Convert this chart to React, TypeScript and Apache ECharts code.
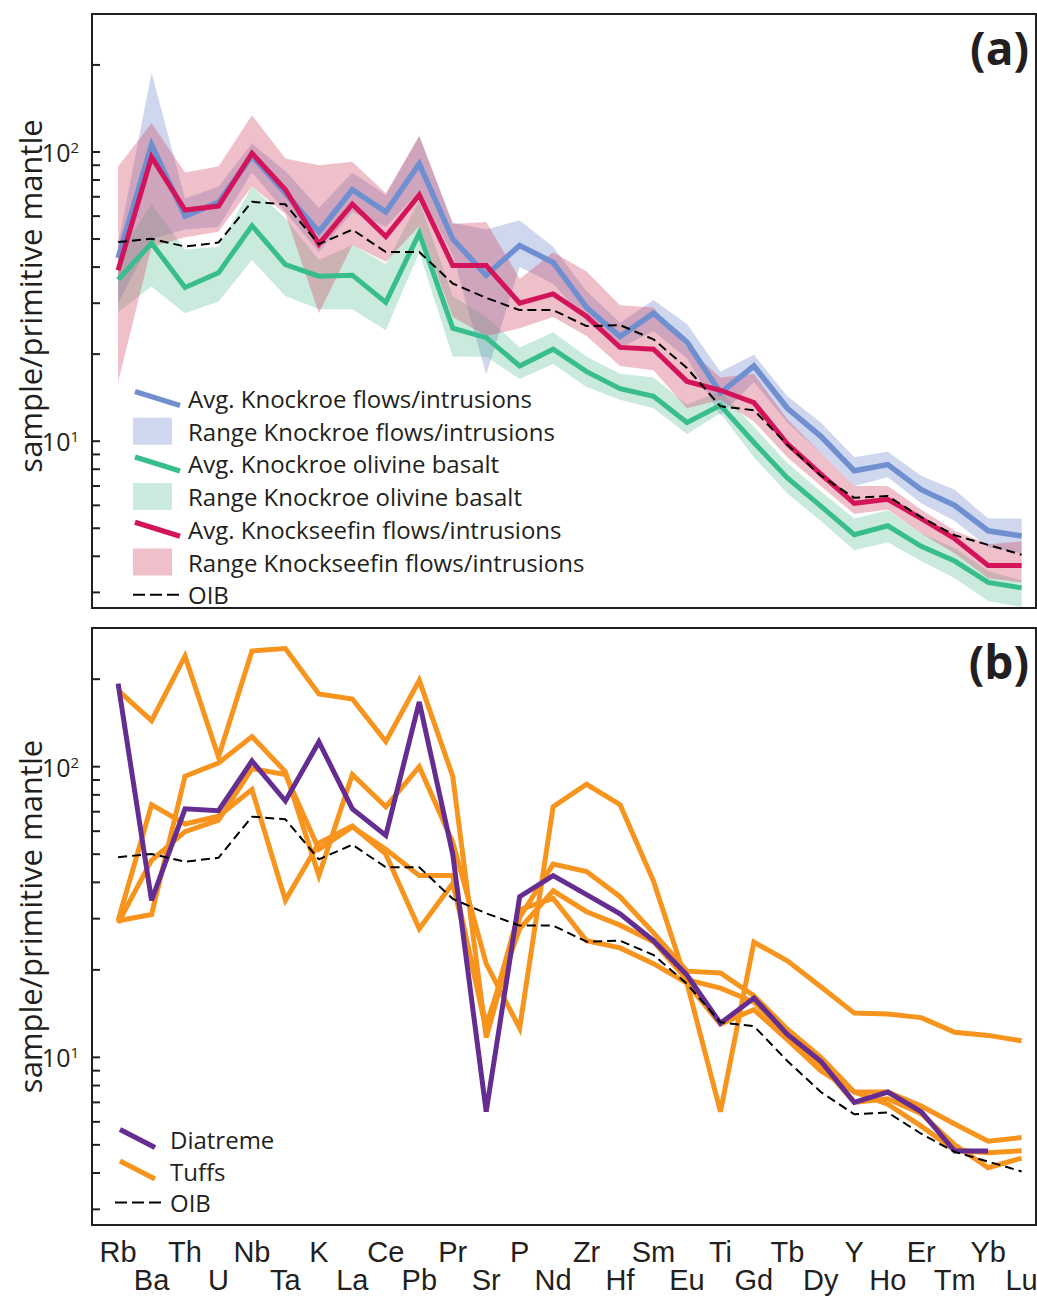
import React, { useEffect, useRef } from 'react';
import * as echarts from 'echarts';

// ---------- data ----------
const ELEMENTS = ['Rb','Ba','Th','U','Nb','Ta','K','La','Ce','Pb','Pr','Sr','P','Nd','Zr','Hf','Sm','Eu','Ti','Gd','Tb','Dy','Y','Ho','Er','Tm','Yb','Lu'];

const OIB = [48.8, 50.1, 47.1, 48.6, 67.3, 65.9, 48.0, 53.9, 45.1, 45.1, 35.1, 31.3, 28.4, 28.4, 25.0, 25.2, 22.5, 17.9, 13.2, 12.8, 9.72, 7.6, 6.37, 6.46, 5.46, 4.73, 4.38, 4.05];

const KNOCKROE_AVG = [43, 106, 60, 67, 97, 72, 53, 74, 62, 91, 50, 37.5, 47.5, 41.5, 29, 23, 27.7, 22, 14.7, 18.2, 13, 10.4, 7.9, 8.3, 6.8, 6.0, 4.9, 4.7];
const KNOCKROE_MAX = [48, 188, 69, 76, 107, 86, 64, 85, 71, 113, 57, 54, 58, 47, 33, 25.7, 30.8, 25.4, 17.4, 19.9, 14.3, 11.6, 8.8, 9.2, 7.6, 6.8, 5.4, 5.4];
const KNOCKROE_MIN = [30, 50, 54, 55, 85, 62, 45, 62, 55, 73, 44, 17, 40, 35, 26, 21, 24, 19.3, 12.3, 16, 11.6, 9.1, 7.0, 7.5, 6.1, 5.3, 4.3, 4.1];

const OLIVINE_AVG = [36.2, 48.4, 34, 38.2, 55.6, 40.8, 37.2, 37.5, 30.2, 52.4, 24.6, 22.8, 18.2, 20.8, 17.4, 15.2, 14.3, 11.6, 13.3, 9.9, 7.46, 5.96, 4.75, 5.1, 4.33, 3.85, 3.25, 3.11];
const OLIVINE_MAX = [44, 66, 46, 47, 76, 59, 42.3, 47.7, 41, 68, 31.8, 26.9, 21.1, 23.8, 19.6, 17.1, 16.6, 13.4, 14.9, 11.2, 8.4, 6.7, 5.4, 5.77, 4.8, 4.27, 3.56, 3.3];
const OLIVINE_MIN = [28, 34.3, 27.7, 30.4, 42.3, 31.8, 28.6, 28.6, 24.2, 45, 19.6, 19.6, 16.4, 18.5, 15.4, 13.9, 13, 10.6, 12.5, 8.8, 6.6, 5.3, 4.2, 4.47, 3.85, 3.36, 2.8, 2.67];

const KNOCKSEEFIN_AVG = [39, 96, 63, 65, 99, 74, 48, 66, 51, 71, 40.5, 40.5, 30, 32.3, 27, 21.1, 20.8, 16.1, 15, 13.6, 9.8, 7.7, 6.1, 6.3, 5.4, 4.6, 3.72, 3.72];
const KNOCKSEEFIN_MAX = [89, 126, 85, 89, 134, 95, 90, 92.5, 72, 114, 56.4, 57.3, 36.4, 45, 38.6, 29.5, 29, 21.1, 16.6, 17.1, 11.9, 9.1, 7.0, 7.0, 5.8, 4.9, 4.4, 4.5];
const KNOCKSEEFIN_MIN = [16, 47, 50.7, 53, 76, 61, 27.7, 47.7, 41.7, 55.5, 26.9, 23.1, 24.6, 26.9, 23.1, 18.2, 17.6, 13, 13.9, 11.7, 8.8, 7.0, 5.6, 5.8, 4.8, 4.1, 3.36, 3.25];

const DIATREME = [193, 34.7, 71.6, 70.6, 104.6, 76.2, 121.7, 71.6, 58, 167, 50, 6.5, 35.7, 42.2, 36.3, 31.2, 25.2, 19.2, 13.1, 16.0, 12.0, 9.7, 7.0, 7.6, 6.5, 4.76, 4.76];

const TUFF_1 = [183, 144, 240, 108, 250, 255, 178, 171, 122, 198, 92.7, 11.7, 30.3, 46.2, 43.6, 35.7, 26.8, 19.8, 19.5, 16.3, 12.5, 10.0, 7.6, 7.6, 6.8, 5.9, 5.15, 5.3];
const TUFF_2 = [29.5, 31, 92.7, 103, 127, 96, 42.2, 94, 72.8, 100, 55, 21, 12.6, 72.8, 87, 74, 40.4, 18, 6.5, 24.9, 21.5, 17.5, 14.2, 14.1, 13.7, 12.2, 11.9, 11.4];
const TUFF_3 = [29.5, 74, 63.5, 67.5, 83.4, 34.7, 54.6, 62.5, 50, 27.7, 39.7, 13.0, 27.7, 37.4, 31.7, 28.5, 25, 18.5, 17.3, 15.5, 12, 9.5, 7.0, 7.2, 6.4, 5.0, 4.17, 4.5];
const TUFF_4 = [29, 47.6, 59.8, 65.5, 98.5, 94, 52, 62, 52, 42.2, 42.2, 12.4, 32.2, 35.2, 25.2, 23.8, 21, 18, 13, 14.6, 11.5, 9.0, 7.6, 6.9, 5.8, 4.8, 4.7, 4.77];

const Y_TICKS = [3, 4, 5, 6, 7, 8, 9, 10, 20, 30, 40, 50, 60, 70, 80, 90, 100, 200];

// ---------- layout / style ----------
const X_MIN = -0.78;
const X_MAX = 27.43;
const Y_MIN = 2.65;
const Y_MAX = 300;
const INK = '#231f20';
const FONT = '"Open Sans", "Noto Sans", sans-serif';
const LABEL_FONT = '"Liberation Sans", Arial, sans-serif';

const C_BLUE = '#6f8fd1';
const C_BLUE_BAND = 'rgba(120,145,205,0.36)';
const C_GREEN = '#38be8c';
const C_GREEN_BAND = 'rgba(60,180,130,0.28)';
const C_PINK = '#d4145a';
const C_PINK_BAND = 'rgba(210,70,100,0.34)';
const C_PURPLE = '#662d91';
const C_ORANGE = '#f7941d';

// legend icons: a leading "M0,0 M50,27" fixes each icon's box to the full item box
const SLANT_A = 'path://M0,0M50,27M2.8,4L47.8,18L46.2,23L1.2,9Z';
const RECT_A = 'path://M0,0M50,27M0,0H39V27H0Z';
const DASH_A = 'path://M0,0M50,27M0,12.5H12V14.5H0Z M17,12.5H29V14.5H17Z M34,12.5H46V14.5H34Z';
const SLANT_B = 'path://M0,0M50,27M6.2,1.2L41.2,19.2L38.8,23.8L3.8,5.8Z';
const DASH_B = 'path://M0,0M50,27M0,12.5H12V14.5H0Z M17,12.5H29V14.5H17Z M34,12.5H46V14.5H34Z';

const pts = (vals: number[]) => vals.map((v, i) => [i, v]);

function bandSeries(name: string, lo: number[], hi: number[], color: string, g: number) {
  return {
    type: 'custom', name, xAxisIndex: g, yAxisIndex: g, silent: true, z: 1, clip: true,
    itemStyle: { color },
    encode: { x: 0, y: [1, 2] },
    data: lo.map((l, i) => [i, l, hi[i]]),
    renderItem: (params: any, api: any) => {
      if (params.dataIndexInside !== 0) return null;
      const n = params.dataInsideLength;
      const upper: number[][] = [];
      const lower: number[][] = [];
      for (let j = 0; j < n; j++) {
        const x = api.value(0, j);
        upper.push(api.coord([x, api.value(2, j)]));
        lower.unshift(api.coord([x, api.value(1, j)]));
      }
      return {
        type: 'polygon',
        shape: { points: upper.concat(lower) },
        style: { fill: color },
      };
    },
  };
}

function lineSeries(name: string, vals: number[], color: string, g: number, z = 3, width = 5) {
  return {
    type: 'line', name, xAxisIndex: g, yAxisIndex: g, data: pts(vals), color,
    symbol: 'none', lineStyle: { width, join: 'miter', cap: 'butt' }, silent: true, z,
  };
}

function oibSeries(g: number) {
  return {
    type: 'line', name: 'OIB', xAxisIndex: g, yAxisIndex: g, data: pts(OIB), color: '#000',
    symbol: 'none', lineStyle: { width: 2, type: [9, 5] }, silent: true, z: 6,
  };
}

function tickSeries(g: number) {
  return {
    type: 'custom', xAxisIndex: g, yAxisIndex: g, silent: true, z: 10, clip: false,
    data: Y_TICKS.map((v) => [X_MIN, v]),
    renderItem: (_p: any, api: any) => {
      const p = api.coord([api.value(0), api.value(1)]);
      return {
        type: 'line',
        shape: { x1: p[0], y1: p[1], x2: p[0] + 8, y2: p[1] },
        style: { stroke: INK, lineWidth: 2 },
      };
    },
  };
}

function yAxis(g: number, shift: number) {
  return {
    type: 'log', gridIndex: g, logBase: 10, min: Y_MIN, max: Y_MAX,
    axisLine: { show: false }, axisTick: { show: false }, splitLine: { show: false },
    name: 'sample/primitive mantle', nameLocation: 'middle', nameRotate: 90, nameGap: 47,
    nameMoveOverlap: false,
    nameTextStyle: { fontSize: 31, fontFamily: FONT, color: INK, padding: [0, 0, 0, shift] },
    axisLabel: {
      margin: 13,
      formatter: (v: number) => {
        const l = Math.log10(v);
        const r = Math.round(l);
        if (Math.abs(l - r) < 1e-3 && (r === 1 || r === 2)) return `{b|10}{s|${r}}`;
        return '';
      },
      rich: {
        b: { fontSize: 25, fontFamily: FONT, color: INK },
        s: { fontSize: 15, fontFamily: FONT, color: INK, verticalAlign: 'top' },
      },
    },
  };
}

function labelAxis(parity: number, margin: number) {
  return {
    type: 'value', gridIndex: 1, position: 'bottom', min: X_MIN, max: X_MAX,
    axisLine: { show: false }, axisTick: { show: false }, splitLine: { show: false },
    axisLabel: {
      customValues: ELEMENTS.map((_, i) => i).filter((i) => i % 2 === parity),
      showMinLabel: true, showMaxLabel: true, hideOverlap: false,
      formatter: (v: number) => ELEMENTS[Math.round(v)] ?? '',
      fontSize: 29, lineHeight: 29, fontFamily: LABEL_FONT, color: INK, margin,
    },
  };
}

export default function App() {
  const ref = useRef<HTMLDivElement>(null);
  useEffect(() => {
    if (!ref.current) return;
    const chart = echarts.init(ref.current, undefined, { renderer: 'svg' });
    const gridBase = { left: 92, width: 944, show: true, borderColor: INK, borderWidth: 2, backgroundColor: 'transparent', containLabel: false, outerBoundsMode: 'none' };
    const option: any = {
      animation: false,
      backgroundColor: '#fff',
      textStyle: { fontFamily: FONT },
      grid: [
        { ...gridBase, top: 14, height: 594 },
        { ...gridBase, top: 628, height: 597 },
      ],
      xAxis: [
        { type: 'value', gridIndex: 0, min: X_MIN, max: X_MAX, show: false },
        labelAxis(0, 12),
        labelAxis(1, 40),
      ],
      yAxis: [yAxis(0, 30), yAxis(1, 20)],
      legend: [
        {
          orient: 'vertical', left: 133, top: 385, itemWidth: 50, itemHeight: 27, itemGap: 5.7, padding: 0,
          selectedMode: false,
          textStyle: { fontSize: 24, fontFamily: FONT, color: INK },
          data: [
            { name: 'Avg. Knockroe flows/intrusions', icon: SLANT_A },
            { name: 'Range Knockroe flows/intrusions', icon: RECT_A },
            { name: 'Avg. Knockroe olivine basalt', icon: SLANT_A },
            { name: 'Range Knockroe olivine basalt', icon: RECT_A },
            { name: 'Avg. Knockseefin flows/intrusions', icon: SLANT_A },
            { name: 'Range Knockseefin flows/intrusions', icon: RECT_A },
            { name: 'OIB', icon: DASH_A },
          ],
        },
        {
          orient: 'vertical', left: 115, top: 1126, itemWidth: 50, itemHeight: 27, itemGap: 4.5, padding: 0,
          selectedMode: false,
          textStyle: { fontSize: 24, fontFamily: FONT, color: INK },
          data: [
            { name: 'Diatreme', icon: SLANT_B },
            { name: 'Tuffs', icon: SLANT_B },
            { name: 'OIB', icon: DASH_B },
          ],
        },
      ],
      graphic: [
        { type: 'text', right: 8, top: 24, style: { text: '(a)', font: `bold 46px ${FONT}`, fill: INK } },
        { type: 'text', right: 8, top: 638, style: { text: '(b)', font: `bold 46px ${FONT}`, fill: INK } },
      ],
      series: [
        bandSeries('Range Knockroe flows/intrusions', KNOCKROE_MIN, KNOCKROE_MAX, C_BLUE_BAND, 0),
        bandSeries('Range Knockroe olivine basalt', OLIVINE_MIN, OLIVINE_MAX, C_GREEN_BAND, 0),
        bandSeries('Range Knockseefin flows/intrusions', KNOCKSEEFIN_MIN, KNOCKSEEFIN_MAX, C_PINK_BAND, 0),
        lineSeries('Avg. Knockroe olivine basalt', OLIVINE_AVG, C_GREEN, 0, 3),
        lineSeries('Avg. Knockroe flows/intrusions', KNOCKROE_AVG, C_BLUE, 0, 3, 5.5),
        lineSeries('Avg. Knockseefin flows/intrusions', KNOCKSEEFIN_AVG, C_PINK, 0, 4),
        oibSeries(0),
        tickSeries(0),
        lineSeries('Tuffs', TUFF_1, C_ORANGE, 1, 3),
        lineSeries('Tuffs', TUFF_2, C_ORANGE, 1, 3),
        lineSeries('Tuffs', TUFF_3, C_ORANGE, 1, 3),
        lineSeries('Tuffs', TUFF_4, C_ORANGE, 1, 3),
        lineSeries('Diatreme', DIATREME, C_PURPLE, 1, 4),
        oibSeries(1),
        tickSeries(1),
      ],
    };
    chart.setOption(option);
    return () => chart.dispose();
  }, []);
  return <div ref={ref} style={{ position: 'absolute', left: 0, top: 0, width: 1037, height: 1297 }} />;
}
